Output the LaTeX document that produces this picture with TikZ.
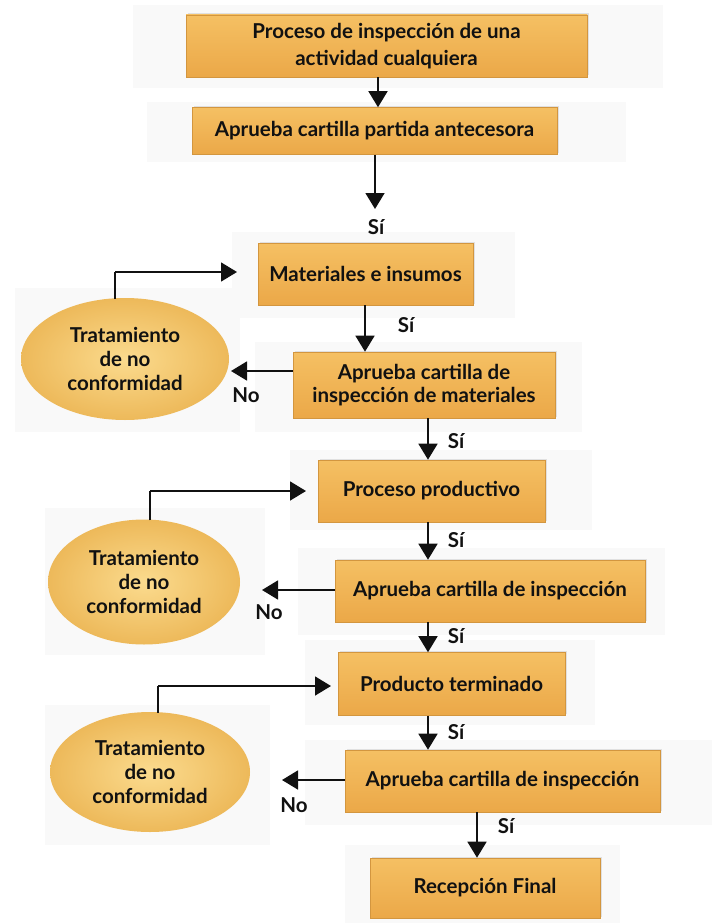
\documentclass[tikz,border=0pt]{standalone}
\usepackage{fontspec}
\setmainfont{Lato}[UprightFont=* Bold]
\usetikzlibrary{arrows.meta,shadows,shapes.geometric}
\definecolor{boxtop}{HTML}{F5C063}
\definecolor{boxbot}{HTML}{EBA848}
\definecolor{boxedge}{HTML}{D3963F}
\definecolor{elin}{HTML}{FBDB8E}
\definecolor{elout}{HTML}{EDB95A}
\definecolor{panel}{HTML}{F9F9F9}
\definecolor{ink}{HTML}{111111}
\tikzset{
  stepbox/.style={rectangle, top color=boxtop, bottom color=boxbot, draw=boxedge, line width=0.6pt,
    inner sep=2pt, align=center, text=ink, font=\fontsize{20.5}{25}\selectfont,
    drop shadow={opacity=0.2, shadow xshift=1.5pt, shadow yshift=1.5pt}},
  ncbox/.style={ellipse, inner color=elin, outer color=elout, draw=none, align=center, text=ink,
    font=\fontsize{20.5}{24}\selectfont},
  arr/.style={draw=ink, line width=1.6pt, -{Triangle[width=19pt,length=16pt]}},
  plain/.style={draw=ink, line width=1.6pt},
  lbl/.style={text=ink, font=\fontsize{20.5}{24}\selectfont, inner sep=0pt},
  bgpanel/.style={fill=panel, draw=none}
}
\begin{document}
\begin{tikzpicture}[x=1pt,y=-1pt]
\useasboundingbox (0,0) rectangle (712,923);
\fill[white] (0,0) rectangle (712,923);
% panels
\fill[bgpanel] (133,5) rectangle (663,88);
\fill[bgpanel] (147,102) rectangle (626,162);
\fill[bgpanel] (232,232) rectangle (515,318);
\fill[bgpanel] (15,288) rectangle (240,432);
\fill[bgpanel] (255,342) rectangle (582,432);
\fill[bgpanel] (290,450) rectangle (592,530);
\fill[bgpanel] (45,508) rectangle (265,655);
\fill[bgpanel] (298,548) rectangle (665,635);
\fill[bgpanel] (305,640) rectangle (595,725);
\fill[bgpanel] (45,705) rectangle (270,845);
\fill[bgpanel] (305,740) rectangle (712,825);
\fill[bgpanel] (345,845) rectangle (620,923);
% boxes
\node[stepbox, minimum width=401pt, minimum height=62pt, font=\fontsize{20.5}{27}\selectfont] (b1) at (386.5,46) {Proceso de inspección de una\\actividad cualquiera};
\node[stepbox, minimum width=365pt, minimum height=47pt] (b2) at (374.5,131) {Aprueba cartilla partida antecesora};
\node[stepbox, minimum width=215pt, minimum height=62pt] (b3) at (365.5,274) {Materiales e insumos};
\node[stepbox, minimum width=262pt, minimum height=66pt, font=\fontsize{20.5}{23}\selectfont] (b4) at (424,385) {Aprueba cartilla de\\inspección de materiales};
\node[stepbox, minimum width=227pt, minimum height=62pt] (b5) at (431.5,491) {Proceso productivo};
\node[stepbox, minimum width=310pt, minimum height=62pt] (b6) at (490,591) {Aprueba cartilla de inspección};
\node[stepbox, minimum width=227pt, minimum height=63pt] (b7) at (451.5,684) {Producto terminado};
\node[stepbox, minimum width=315pt, minimum height=62pt] (b8) at (502.5,781) {Aprueba cartilla de inspección};
\node[stepbox, minimum width=230pt, minimum height=60pt] (b9) at (485,888) {Recepción Final};
% ellipses
\node[ncbox, minimum width=208pt, minimum height=122pt] (e1) at (125,359) {Tratamiento\\de no\\conformidad};
\node[ncbox, minimum width=192pt, minimum height=125pt] (e2) at (144,582) {Tratamiento\\de no\\conformidad};
\node[ncbox, minimum width=200pt, minimum height=120pt] (e3) at (150,772) {Tratamiento\\de no\\conformidad};
% x-coordinates
\coordinate (xa) at (378,0);
\coordinate (xb) at (375,0);
\coordinate (xc) at (365,0);
\coordinate (xd) at (428,0);
\coordinate (xe) at (477,0);
\coordinate (s2) at (375,209);
% vertical arrows
\draw[arr] (xa |- b1.south) -- (xa |- b2.north);
\draw[arr] (xb |- b2.south) -- (s2);
\draw[arr] (xc |- b3.south) -- (xc |- b4.north);
\draw[arr] (xd |- b4.south) -- (xd |- b5.north);
\draw[arr] (xd |- b5.south) -- (xd |- b6.north);
\draw[arr] (xd |- b6.south) -- (xd |- b7.north);
\draw[arr] (xd |- b7.south) -- (xd |- b8.north);
\draw[arr] (xe |- b8.south) -- (xe |- b9.north);
% labels Si
\node[lbl] (si1) at (376,227) {Sí};
\node[lbl] (si2) at (406,325) {Sí};
\node[lbl] (si3) at (456,441) {Sí};
\node[lbl] (si4) at (456,540) {Sí};
\node[lbl] (si5) at (456,636) {Sí};
\node[lbl] (si6) at (456,732) {Sí};
\node[lbl] (si7) at (506,826) {Sí};
% No arrows
\coordinate (n1) at (231,371);
\coordinate (n2) at (262,590);
\coordinate (n3) at (282,780);
\draw[arr] (b4.west |- n1) -- (n1);
\draw[arr] (b6.west |- n2) -- (n2);
\draw[arr] (b8.west |- n3) -- (n3);
\node[lbl] (no1) at (246,395) {No};
\node[lbl] (no2) at (269,612) {No};
\node[lbl] (no3) at (294,805) {No};
% loops
\coordinate (l1a) at (115,272);
\coordinate (l1b) at (237,272);
\coordinate (l2a) at (150,491);
\coordinate (l2b) at (306,491);
\coordinate (l3a) at (158,686);
\coordinate (l3b) at (331,686);
\draw[plain] (l1a |- e1.north) ++(0,1) -- (l1a);
\draw[arr] (l1a) -- (l1b);
\draw[plain] (l2a |- e2.north) ++(0,1) -- (l2a);
\draw[arr] (l2a) -- (l2b);
\draw[plain] (l3a |- e3.north) ++(0,1) -- (l3a);
\draw[arr] (l3a) -- (l3b);
\end{tikzpicture}
\end{document}
